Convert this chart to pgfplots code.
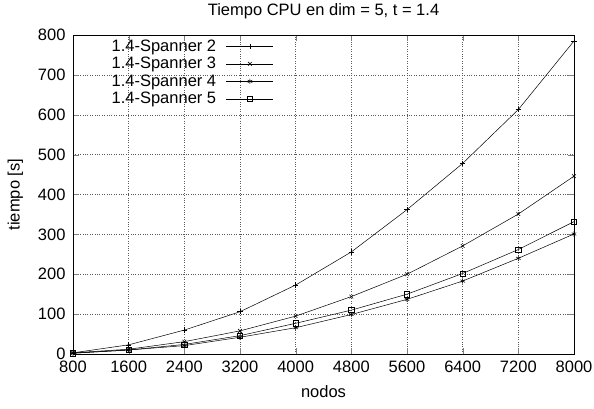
\documentclass[border=0pt]{standalone}
\usepackage{pgfplots}
\pgfplotsset{compat=1.18}
\usepackage{fontspec}
\setmainfont{Liberation Sans}
\begin{document}
\begin{tikzpicture}[x=1pt,y=1pt]
\path[use as bounding box] (0,0) rectangle (594,409);
\begin{axis}[
  at={(73pt,55pt)}, anchor=south west,
  scale only axis, width=501pt, height=319pt,
  xmin=800, xmax=8000, ymin=0, ymax=800,
  xtick={800,1600,...,8000}, ytick={0,100,...,800},
  /pgf/number format/assume math mode=true,
  /pgf/number format/set thousands separator={},
  tick label style={font=\fontsize{16.5}{19}\selectfont},
  label style={font=\fontsize{16.5}{19}\selectfont},
  title style={font=\fontsize{16.5}{19}\selectfont, at={(0.5,1)}, anchor=south, yshift=7pt},
  title={Tiempo CPU en dim = 5, t = 1.4},
  xlabel={nodos}, ylabel={tiempo [s]},
  xlabel style={yshift=-6pt},
  ylabel style={yshift=8pt},
  yticklabel style={xshift=-4pt},
  xticklabel style={yshift=-3pt},
  tick align=inside, tick pos=both,
  major tick length=6pt,
  grid=major,
  major grid style={dotted, black!65, line width=0.45pt},
  axis line style={line width=0.8pt},
  every axis plot/.append style={black, line width=0.5pt, mark size=2.6pt, mark options={solid,line width=0.55pt}},
  legend plot pos=right,
  legend cell align=right,
  legend style={draw=none, fill=none, at={(0.403,0.995)}, anchor=north east, font=\fontsize{16.5}{19}\selectfont, row sep=0.5pt, inner sep=1pt},
  legend image code/.code={\path (0pt,0pt); \draw[#1] (8pt,0pt) -- (55pt,0pt); \draw[#1,only marks] plot coordinates {(31.5pt,0pt)};},
]
\addplot[black, mark=+] coordinates {(800,3) (1600,23) (2400,60) (3200,106) (4000,173) (4800,256) (5600,362) (6400,478) (7200,613) (8000,785)};
\addlegendentry{1.4-Spanner 2}
\addplot[black, mark=x] coordinates {(800,3) (1600,12) (2400,31) (3200,58) (4000,95) (4800,144) (5600,200) (6400,271) (7200,351) (8000,446)};
\addlegendentry{1.4-Spanner 3}
\addplot[black, mark=asterisk] coordinates {(800,2) (1600,10) (2400,21) (3200,42) (4000,66) (4800,99) (5600,137) (6400,183) (7200,240) (8000,301)};
\addlegendentry{1.4-Spanner 4}
\addplot[black, mark=square] coordinates {(800,2) (1600,10) (2400,24) (3200,46) (4000,77) (4800,110) (5600,150) (6400,202) (7200,262) (8000,332)};
\addlegendentry{1.4-Spanner 5}
\end{axis}
\end{tikzpicture}
\end{document}
